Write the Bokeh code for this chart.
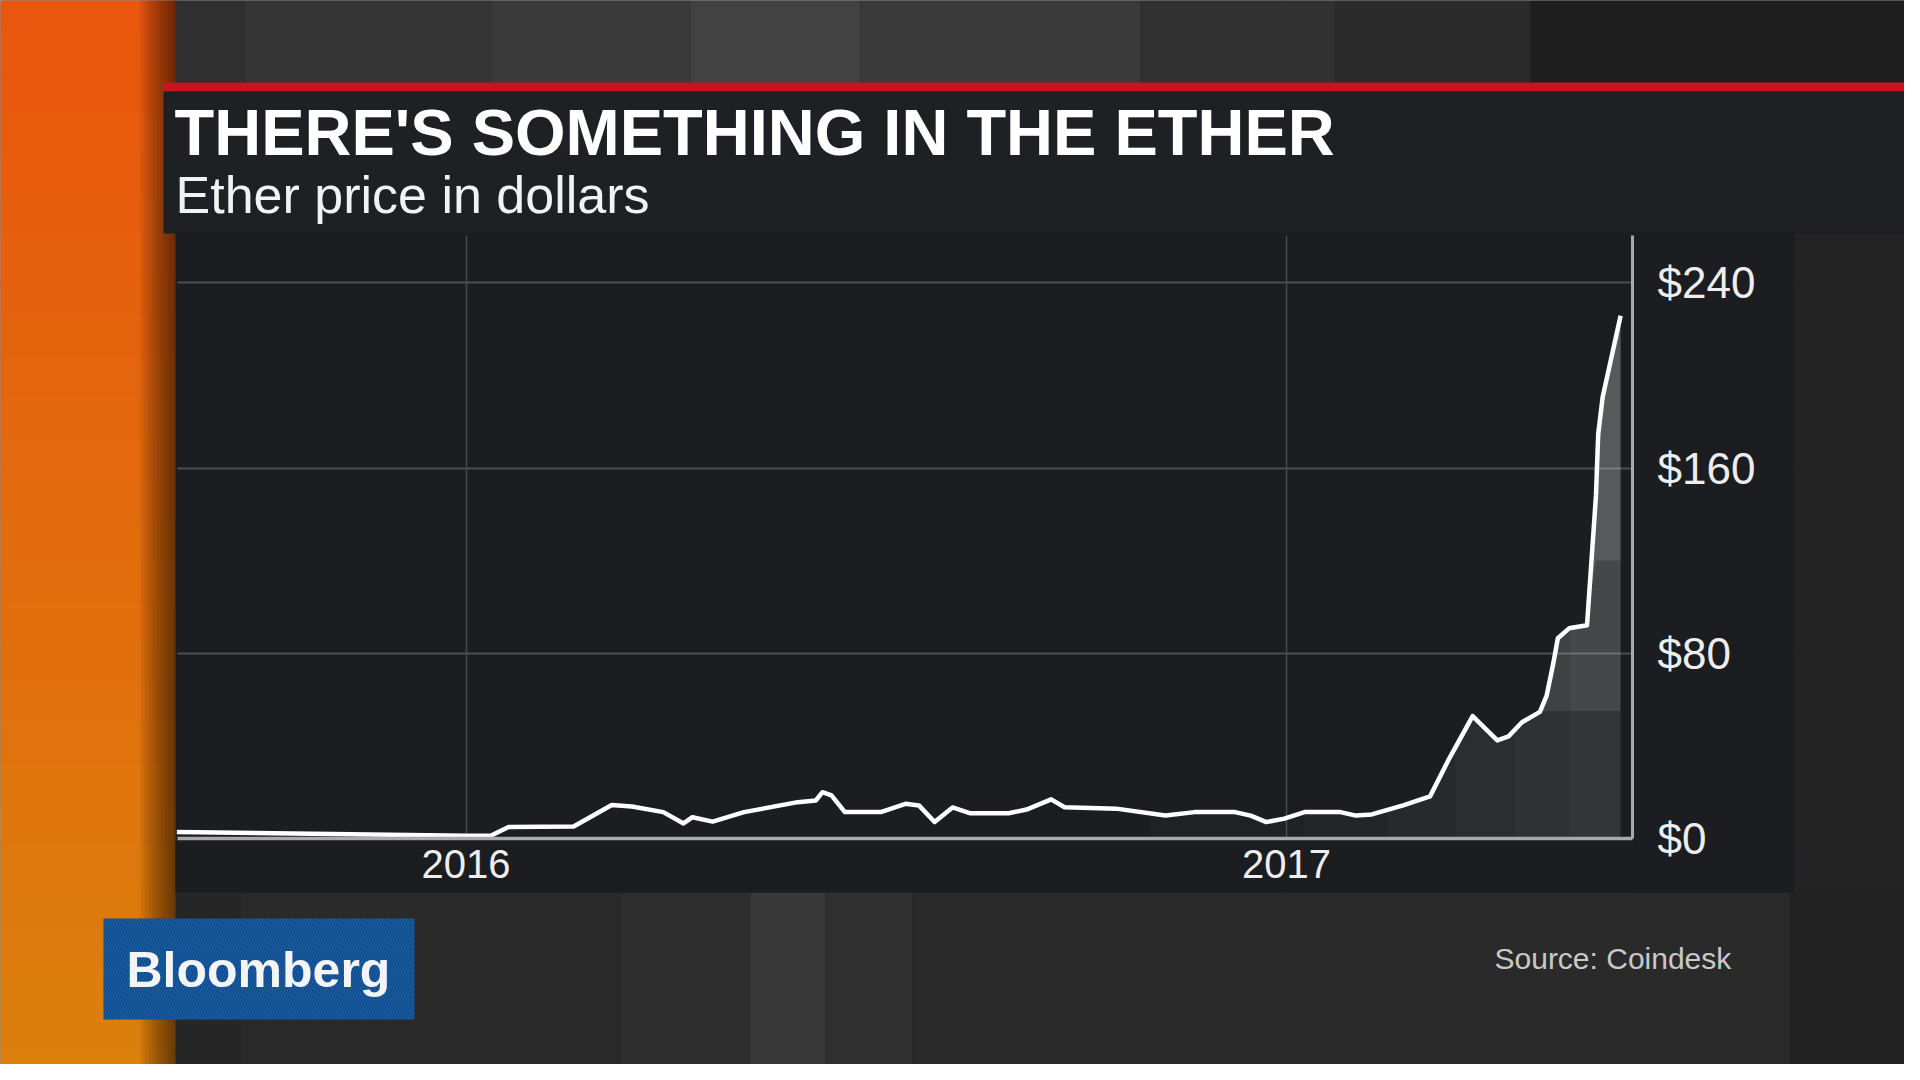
import numpy as np
import pandas as pd
from bokeh.plotting import figure
from bokeh.models import (Range1d, FixedTicker, DatetimeTickFormatter, NumeralTickFormatter,
                          Label, ColumnDataSource, LinearAxis, DatetimeAxis, Grid)
from bokeh.embed import file_html
from bokeh.resources import INLINE

# ---------------- data ----------------
dates = ["2015-08-25", "2016-01-01", "2016-01-12", "2016-01-20", "2016-02-18", "2016-03-06",
         "2016-03-15", "2016-03-29", "2016-04-07", "2016-04-11", "2016-04-20", "2016-05-04",
         "2016-05-28", "2016-06-05", "2016-06-08", "2016-06-12", "2016-06-18", "2016-07-04",
         "2016-07-15", "2016-07-21", "2016-07-28", "2016-08-05", "2016-08-13", "2016-08-30",
         "2016-09-07", "2016-09-18", "2016-09-24", "2016-10-17", "2016-11-08", "2016-11-21",
         "2016-12-09", "2016-12-16", "2016-12-23", "2016-12-31", "2017-01-09", "2017-01-25",
         "2017-02-01", "2017-02-08", "2017-02-22", "2017-03-06", "2017-03-14", "2017-03-25",
         "2017-04-05", "2017-04-10", "2017-04-16", "2017-04-24", "2017-04-27", "2017-04-30",
         "2017-05-02", "2017-05-07", "2017-05-15", "2017-05-19", "2017-05-20", "2017-05-22",
         "2017-05-30"]
prices = [2.8, 1.2, 1.2, 5.0, 5.2, 14.5,
          13.8, 11.4, 6.5, 9.2, 7.3, 11.4,
          15.7, 16.4, 20.0, 18.6, 11.4, 11.4,
          15.0, 14.3, 7.1, 13.4, 10.9, 10.9,
          12.5, 16.9, 13.5, 12.9, 9.9, 11.4,
          11.4, 9.9, 7.1, 8.6, 11.4, 11.4,
          9.9, 10.4, 14.3, 18.2, 33.5, 52.9,
          42.4, 44.1, 50.2, 54.7, 61.7, 75.8,
          86.5, 90.8, 92.1, 148.0, 174.7, 190.7,
          225.8]
y_ticks = [0, 80, 160, 240]
x_tick_dates = ["2016-01-01", "2017-01-01"]
title_text = "THERE'S SOMETHING IN THE ETHER"
subtitle_text = "Ether price in dollars"
source_text = "Source: Coindesk"
brand_text = "Bloomberg"

# ---------------- helpers ----------------
def ms(d):
    return float(np.datetime64(pd.Timestamp(d).to_datetime64(), "ms").astype("int64"))

def lerp_hex(c1, c2, t):
    a = [int(c1[i:i + 2], 16) for i in (1, 3, 5)]
    b = [int(c2[i:i + 2], 16) for i in (1, 3, 5)]
    return "#%02x%02x%02x" % tuple(int(round(a[i] + (b[i] - a[i]) * t)) for i in range(3))

x_ms = np.array([ms(d) for d in dates])
yv = np.array(prices, dtype=float)

W, H = 1904, 1064
# plot area inside the page (pixels)
FL, FR, FT, FB = 177, 1632, 235, 838
day = 86400000.0
x_start = ms("2016-01-01") - 128.7 * day
x_end = ms("2017-01-01") + 154.3 * day
y_top = 260.5
kx = (x_end - x_start) / (FR - FL)
ky = y_top / (FB - FT)

p = figure(width=W, height=H, output_backend="svg", toolbar_location=None,
           title_location=None, x_axis_location=None, y_axis_location=None,
           x_range=Range1d(x_start - FL * kx, x_end + (W - FR) * kx),
           y_range=Range1d(-(H - FB) * ky, y_top + FT * ky),
           min_border=0, min_border_left=0, min_border_right=0,
           min_border_top=0, min_border_bottom=0)
p.outline_line_color = None
p.border_fill_color = "#1c1d20"
p.background_fill_color = "#1c1d20"
for g in p.grid:
    g.visible = False
p.extra_x_ranges = {"px": Range1d(0, W)}
p.extra_y_ranges = {"px": Range1d(H, 0)}

# ---------------- grids (masked outside the plot area by the decorations) ----------------
xticks = [ms(d) for d in x_tick_dates]
p.add_layout(Grid(dimension=1, ticker=FixedTicker(ticks=y_ticks[1:]),
                  grid_line_color="#4d4e50", grid_line_width=2))
p.add_layout(Grid(dimension=0, ticker=FixedTicker(ticks=xticks),
                  grid_line_color="#48494b", grid_line_width=1.5))

# ---------------- decoration rectangles (page pixel space) ----------------
rects = dict(l=[], r=[], t=[], b=[], c=[], a=[])
def rect(l, r, t, b, c, a=1.0):
    for k, v in zip("lrtbca", (l, r, t, b, c, a)):
        rects[k].append(v)

N = 27
for j in range(N):
    rect(-10, 176, -10 + j * 1100 / N, -10 + (j + 1) * 1100 / N + 1,
         lerp_hex("#e9560d", "#dc800c", j / (N - 1)))
for j in range(9):
    rect(140 + j * 4, 176, -10, 1090, "#000000", 0.075)
for l, r, c in [(175, 245, "#2f2f2f"), (245, 490, "#353535"), (490, 690, "#3a3a3a"),
                (690, 860, "#424242"), (860, 1140, "#3a3a3a"), (1140, 1335, "#313131"),
                (1335, 1530, "#2b2b2b"), (1530, 1930, "#1f1f1f")]:
    rect(l, r, -10, 83, c)
for l, r, c in [(175, 240, "#262626"), (240, 620, "#2a2a2a"), (620, 750, "#2e2e2e"),
                (750, 825, "#393939"), (825, 912, "#303030"), (912, 1790, "#2a2a2a"),
                (1790, 1930, "#222222")]:
    rect(l, r, 892, 1090, c)
rect(1793, 1930, 233, 892, "#232323")
rect(163, 1930, 82, 91, "#c5161d")
rect(163, 1930, 91, 233, "#1f2024")
# chart surround (masks grid lines outside the plot area)
rect(175, 1793, 232, FT, "#1c1d20")
rect(175, FL, 232, 892, "#1c1d20")
rect(FR + 1, 1793, 232, 892, "#1c1d20")
rect(175, 1793, FB + 1, 892, "#1c1d20")
p.quad(left="l", right="r", top="t", bottom="b", fill_color="c", fill_alpha="a",
       line_color=None, source=ColumnDataSource(rects), x_range_name="px", y_range_name="px")
# Bloomberg logo box
p.quad(left=[103], right=[414], top=[918], bottom=[1019], fill_color="#0d4b8e",
       line_color=None, hatch_pattern="/", hatch_color="#3a78bd", hatch_alpha=0.45,
       hatch_scale=6, hatch_weight=1.2, x_range_name="px", y_range_name="px")

# ---------------- area fill: overlapping translucent layers (gradient look) ----------------
X0 = ms("2016-11-01")
X1 = x_ms[-1]
J = 6
levels = [0.0, 55.0, 120.0]
pxs, pys = [], []
for j in range(J):
    xs0 = X0 + (X1 - X0) * (j / J) ** (1 / 1.6)
    inside = x_ms > xs0
    xx = np.concatenate([[xs0], x_ms[inside]])
    vv = np.concatenate([[np.interp(xs0, x_ms, yv)], yv[inside]])
    for lv in levels:
        if vv.max() <= lv:
            continue
        lower = np.minimum(vv, lv)
        pxs.append(list(xx) + list(xx[::-1]))
        pys.append(list(vv) + list(lower[::-1]))
p.patches(xs="xs", ys="ys", source=ColumnDataSource(dict(xs=pxs, ys=pys)),
          fill_color="#ffffff", fill_alpha=0.018, line_color=None)

# ---------------- price line ----------------
src = ColumnDataSource(dict(x=x_ms, y=prices))
p.line("x", "y", source=src, line_color="#ffffff", line_width=4.5, line_join="round")

# ---------------- axes (fixed at the plot-area edges) ----------------
yax = LinearAxis(fixed_location=x_end, bounds=(0, y_top))
yax.ticker = FixedTicker(ticks=y_ticks)
yax.formatter = NumeralTickFormatter(format="$0")
yax.axis_line_color = "#a9a9a9"
yax.axis_line_width = 3
yax.major_tick_line_color = None
yax.minor_tick_line_color = None
yax.major_label_standoff = 19
yax.major_label_text_font = "Liberation Sans"
yax.major_label_text_font_size = "44px"
yax.major_label_text_color = "#eeeeee"
p.add_layout(yax, "right")

xax = DatetimeAxis(fixed_location=0, bounds=(x_start, x_end))
xax.ticker = FixedTicker(ticks=xticks)
fmt = "%Y"
xax.formatter = DatetimeTickFormatter(years=fmt, months=fmt, days=fmt, hours=fmt, minutes=fmt,
                                      seconds=fmt, milliseconds=fmt, microseconds=fmt,
                                      hourmin=fmt, minsec=fmt)
xax.axis_line_color = "#a9a9a9"
xax.axis_line_width = 3.5
xax.major_tick_line_color = None
xax.minor_tick_line_color = None
xax.major_label_standoff = 5
xax.major_label_text_font = "Liberation Sans"
xax.major_label_text_font_size = "40px"
xax.major_label_text_color = "#eeeeee"
p.add_layout(xax, "below")

# ---------------- texts ----------------
def label(x, y_base, text, size, color="#ffffff", style="normal", k=0.38):
    p.add_layout(Label(x=x, y=y_base - k * size, x_range_name="px", y_range_name="px",
                       text=text, text_font="Liberation Sans", text_font_size="%dpx" % size,
                       text_font_style=style, text_color=color, text_align="left",
                       text_baseline="alphabetic"))

label(174, 157, title_text, 65, style="bold")
label(175, 214, subtitle_text, 52, color="#f2f2f2")
label(126, 990, brand_text, 50, style="bold", color="#f4f4f4", k=0.41)
label(1494, 969, source_text, 30, color="#c9c9c9")

open("out.html", "w").write(file_html(p, INLINE))
